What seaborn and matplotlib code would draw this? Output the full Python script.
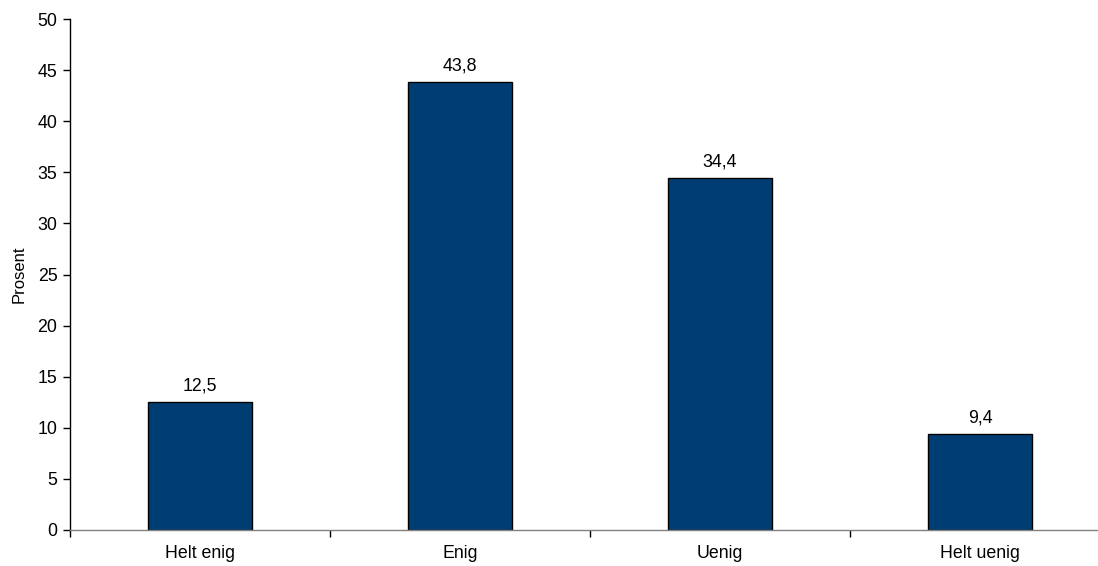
import matplotlib
matplotlib.use("Agg")
import matplotlib.pyplot as plt
import seaborn as sns
import pandas as pd

categories = ["Helt enig", "Enig", "Uenig", "Helt uenig"]
values = [12.5, 43.8, 34.4, 9.4]
value_labels = ["12,5", "43,8", "34,4", "9,4"]

df = pd.DataFrame({"kategori": categories, "prosent": values})

sns.set_style("white")
plt.rcParams["font.family"] = ["Liberation Sans", "DejaVu Sans"]
plt.rcParams["text.color"] = "black"
fs = 12.8

fig = plt.figure(figsize=(10.98, 5.66), dpi=100)
ax = fig.add_axes([70 / 1098, 36 / 566, 1040 / 1098, 511 / 566])

sns.barplot(data=df, x="kategori", y="prosent", color="#003D73", width=0.4,
            edgecolor="black", linewidth=1, saturation=1, ax=ax)

for i, (v, lab) in enumerate(zip(values, value_labels)):
    ax.text(i, v + 0.75, lab, ha="center", va="bottom", fontsize=fs, color="black")

ax.set_xlim(-0.5, 3.5)
ax.set_ylim(0, 50)
ax.set_yticks(range(0, 51, 5))
ax.set_ylabel("Prosent", fontsize=fs - 0.8, labelpad=8, color="black")
ax.set_xlabel("")

# category boundaries as tick marks, labels at centres without marks
ax.set_xticks([-0.5, 0.5, 1.5, 2.5, 3.5], minor=True)
ax.tick_params(axis="x", which="major", length=0, pad=11, labelsize=fs, labelcolor="black")
ax.tick_params(axis="x", which="minor", length=5, width=1, color="black", direction="out", bottom=True)
ax.tick_params(axis="y", length=5, width=1, color="black", direction="out", left=True,
               labelsize=fs, labelcolor="black", pad=4)

for s in ["top", "right"]:
    ax.spines[s].set_visible(False)
ax.spines["left"].set_color("black")
ax.spines["left"].set_linewidth(1)
ax.spines["bottom"].set_color("#808080")
ax.spines["bottom"].set_linewidth(1)

fig.savefig("out.png", dpi=100)
